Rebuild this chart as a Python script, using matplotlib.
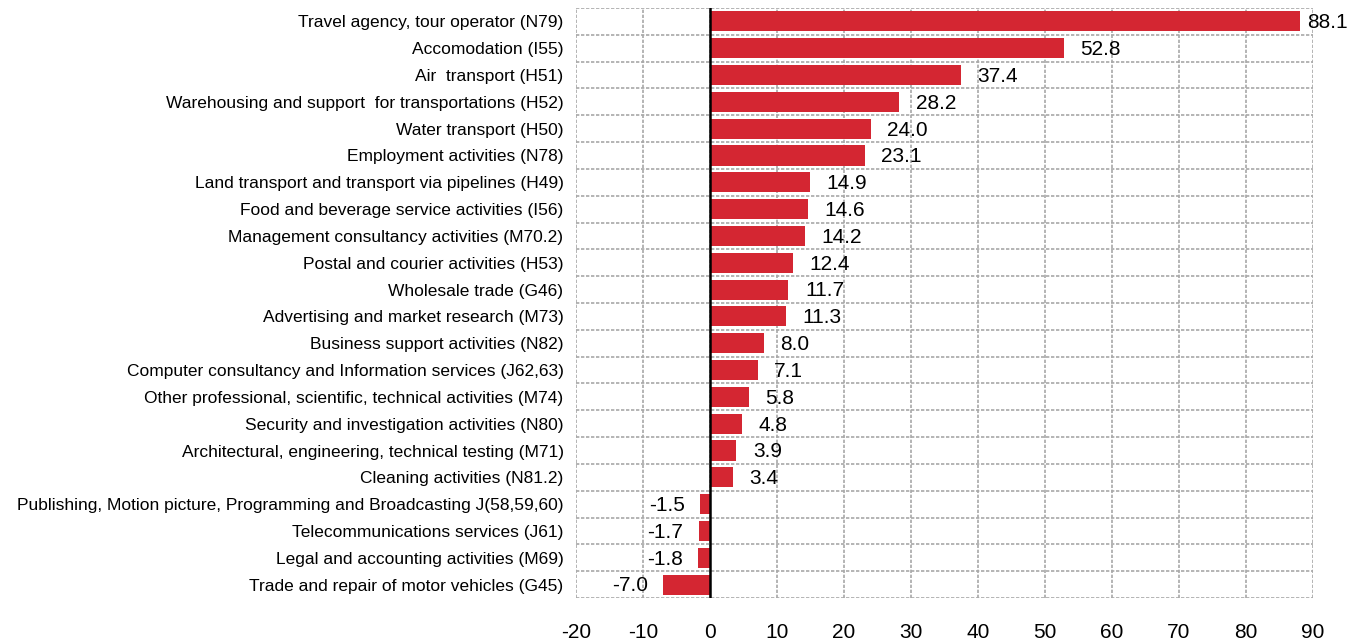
import matplotlib
matplotlib.use("Agg")
import matplotlib.pyplot as plt
from matplotlib import font_manager

# categories top to bottom
categorias = [
    "Travel agency, tour operator (N79)",
    "Accomodation (I55)",
    "Air  transport (H51)",
    "Warehousing and support  for transportations (H52)",
    "Water transport (H50)",
    "Employment activities (N78)",
    "Land transport and transport via pipelines (H49)",
    "Food and beverage service activities (I56)",
    "Management consultancy activities (M70.2)",
    "Postal and courier activities (H53)",
    "Wholesale trade (G46)",
    "Advertising and market research (M73)",
    "Business support activities (N82)",
    "Computer consultancy and Information services (J62,63)",
    "Other professional, scientific, technical activities (M74)",
    "Security and investigation activities (N80)",
    "Architectural, engineering, technical testing (M71)",
    "Cleaning activities (N81.2)",
    "Publishing, Motion picture, Programming and Broadcasting J(58,59,60)",
    "Telecommunications services (J61)",
    "Legal and accounting activities (M69)",
    "Trade and repair of motor vehicles (G45)",
]
valores = [88.1, 52.8, 37.4, 28.2, 24.0, 23.1, 14.9, 14.6, 14.2, 12.4, 11.7,
           11.3, 8.0, 7.1, 5.8, 4.8, 3.9, 3.4, -1.5, -1.7, -1.8, -7.0]
ticks_x = [-20, -10, 0, 10, 20, 30, 40, 50, 60, 70, 80, 90]

nombres = {f.name for f in font_manager.fontManager.ttflist}
fuente = "Liberation Sans Narrow" if "Liberation Sans Narrow" in nombres else "Liberation Sans"
plt.rcParams['font.family'] = [fuente, 'DejaVu Sans']

ROJO = "#D42632"
GRIS = "#A8A8A8"

fig = plt.figure(figsize=(13.61, 6.44), dpi=100)
ax = fig.add_axes([576/1361, 1-598/644, (1313-576)/1361, (598-8)/644])

n = len(categorias)
pos = list(range(n))
ax.barh(pos, valores, height=0.75, color=ROJO, zorder=3)

# etiquetas de valor (la mayor se acerca a la barra para caber en la figura)
for y, v in zip(pos, valores):
    if v >= 0:
        dx = 5 if v == max(valores) else 12
        ax.annotate(f"{v:.1f}", (v, y), xytext=(dx, -1), textcoords="offset points",
                    ha="left", va="center", fontsize=15, zorder=4)
    else:
        ax.annotate(f"{v:.1f}", (v, y), xytext=(-11, -1), textcoords="offset points",
                    ha="right", va="center", fontsize=15, zorder=4)

ax.set_xlim(-20, 90)
ax.set_ylim(n - 0.5, -0.5)
ax.set_xticks(ticks_x)
ax.set_xticklabels([str(t) for t in ticks_x], fontsize=15)
ax.set_yticks(pos)
ax.set_yticklabels(categorias, fontsize=12.5)
ax.tick_params(axis="both", length=0)
ax.tick_params(axis="x", pad=18)
ax.tick_params(axis="y", pad=9)

# rejilla en los bordes de categoría
ax.set_yticks([p + 0.5 for p in range(-1, n)], minor=True)
ax.tick_params(axis="y", which="minor", length=0)
ax.grid(True, axis="y", which="minor", color=GRIS, linestyle=(0, (2, 1)), linewidth=1.2, zorder=0)
ax.grid(True, axis="x", which="major", color=GRIS, linestyle=(0, (2, 1)), linewidth=1.2, zorder=0)
for s in ax.spines.values():
    s.set_visible(False)
ax.axvline(0, color="black", linewidth=1.8, zorder=5)

fig.savefig("out.png", dpi=100)
